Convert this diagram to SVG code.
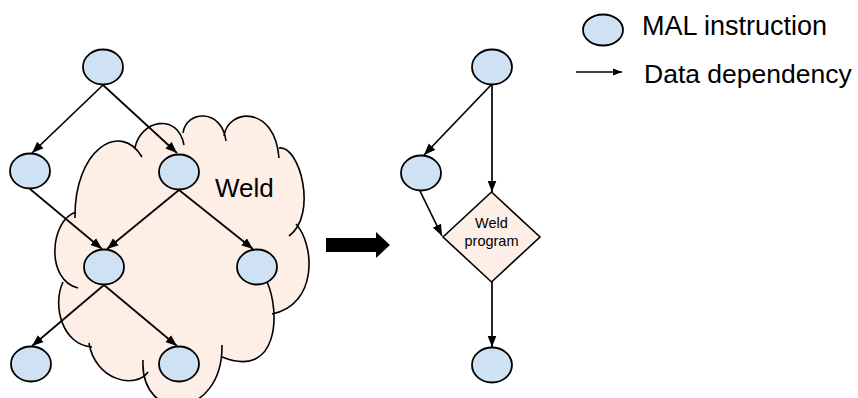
<svg xmlns="http://www.w3.org/2000/svg" width="858" height="398" viewBox="0 0 858 398">
<style>
.node{fill:#cfe2f3;stroke:#000;stroke-width:1.8}
.edge{fill:none;stroke:#000;stroke-width:1.7;marker-end:url(#ah)}
.txt{font-family:"Liberation Sans",Arial,sans-serif;fill:#000}
</style>
<defs>
<marker id="ah" markerUnits="userSpaceOnUse" markerWidth="12" markerHeight="10" refX="11.5" refY="5" orient="auto">
<path d="M0,0.5 L11.5,5 L0,9.5 z" fill="#000"/>
</marker>
<marker id="ahs" markerUnits="userSpaceOnUse" markerWidth="10" markerHeight="8" refX="9" refY="4" orient="auto">
<path d="M0,0.5 L9,4 L0,7.5 z" fill="#000"/>
</marker>
</defs>
<g id="cloud">
<path d="M75,218 C74,150 120,120 142,157 L135,148 C140,120 178,112 184,145 L183,133 C186,110 222,108 226,141 L224,136 C228,108 275,105 279,158 L279,148 C300,145 318,215 289,236 L296,224 C315,245 318,305 272,314 L267,282 C280,310 280,380 222,357 L222,345 C223,420 140,425 143,360 L148,372 C135,390 95,380 89,343 L92,347 C62,345 52,305 63,282 L78,288 C45,280 50,220 76,212 Z" fill="#fdefe6" stroke="none"/>
<path d="M75,218 C74,150 120,120 142,157 M135,148 C140,120 178,112 184,145 M183,133 C186,110 222,108 226,141 M224,136 C228,108 275,105 279,158 M279,148 C300,145 318,215 289,236 M296,224 C315,245 318,305 272,314 M267,282 C280,310 280,380 222,357 M222,345 C223,420 140,425 143,360 M148,372 C135,390 95,380 89,343 M92,347 C62,345 52,305 63,282 M78,288 C45,280 50,220 76,212" fill="none" stroke="#000" stroke-width="1.6"/>
<text class="txt" x="215" y="197" font-size="26">Weld</text>
</g>
<g id="connectors">
<path class="edge" d="M103,85 L32,153"/>
<path class="edge" d="M103,85 L177,153"/>
<path class="edge" d="M30,189 L102,249"/>
<path class="edge" d="M179,190 L107,249"/>
<path class="edge" d="M179,190 L253,249"/>
<path class="edge" d="M104,285 L32,346"/>
<path class="edge" d="M104,285 L177,346"/>
<path class="edge" d="M491,85 L424,155"/>
<path class="edge" d="M492,85 L492,192"/>
<path class="edge" d="M420,191 L442,236"/>
<path class="edge" d="M492,282 L492,347"/>
</g>
<g id="n_top"><ellipse class="node" cx="103" cy="67" rx="20" ry="17.5"/></g>
<g id="n_leftmid"><ellipse class="node" cx="30" cy="171" rx="20" ry="17.5"/></g>
<g id="n_rightmid"><ellipse class="node" cx="179" cy="172" rx="20" ry="17.5"/></g>
<g id="n_center"><ellipse class="node" cx="104" cy="267" rx="20" ry="17.5"/></g>
<g id="n_right"><ellipse class="node" cx="257" cy="267" rx="20" ry="17.5"/></g>
<g id="n_botleft"><ellipse class="node" cx="31" cy="364" rx="20" ry="17.5"/></g>
<g id="n_botmid"><ellipse class="node" cx="179" cy="364" rx="20" ry="17.5"/></g>
<g id="big_arrow">
<path d="M326,238 L376,238 L376,232 L390,245 L376,258 L376,252 L326,252 Z" fill="#000"/>
</g>
<g id="r_top"><ellipse class="node" cx="492" cy="67" rx="20" ry="17.5"/></g>
<g id="r_left"><ellipse class="node" cx="421" cy="173" rx="20" ry="17.5"/></g>
<g id="r_weld">
<path d="M491.5,192 L540,237 L491.5,282 L443,237 Z" fill="#fdefe6" stroke="#000" stroke-width="1.6"/>
<text class="txt" x="491.5" y="228" font-size="14.5" text-anchor="middle">Weld</text>
<text class="txt" x="491.5" y="246" font-size="14.5" text-anchor="middle">program</text>
</g>
<g id="r_bottom"><ellipse class="node" cx="492" cy="365" rx="20" ry="17.5"/></g>
<g id="legend">
<ellipse class="node" cx="603" cy="30" rx="20" ry="15.5"/>
<text class="txt" x="642" y="35" font-size="27">MAL instruction</text>
<path d="M576,72 L622,72" fill="none" stroke="#000" stroke-width="1.6" marker-end="url(#ahs)"/>
<text class="txt" x="644" y="83" font-size="26.5">Data dependency</text>
</g>
</svg>
